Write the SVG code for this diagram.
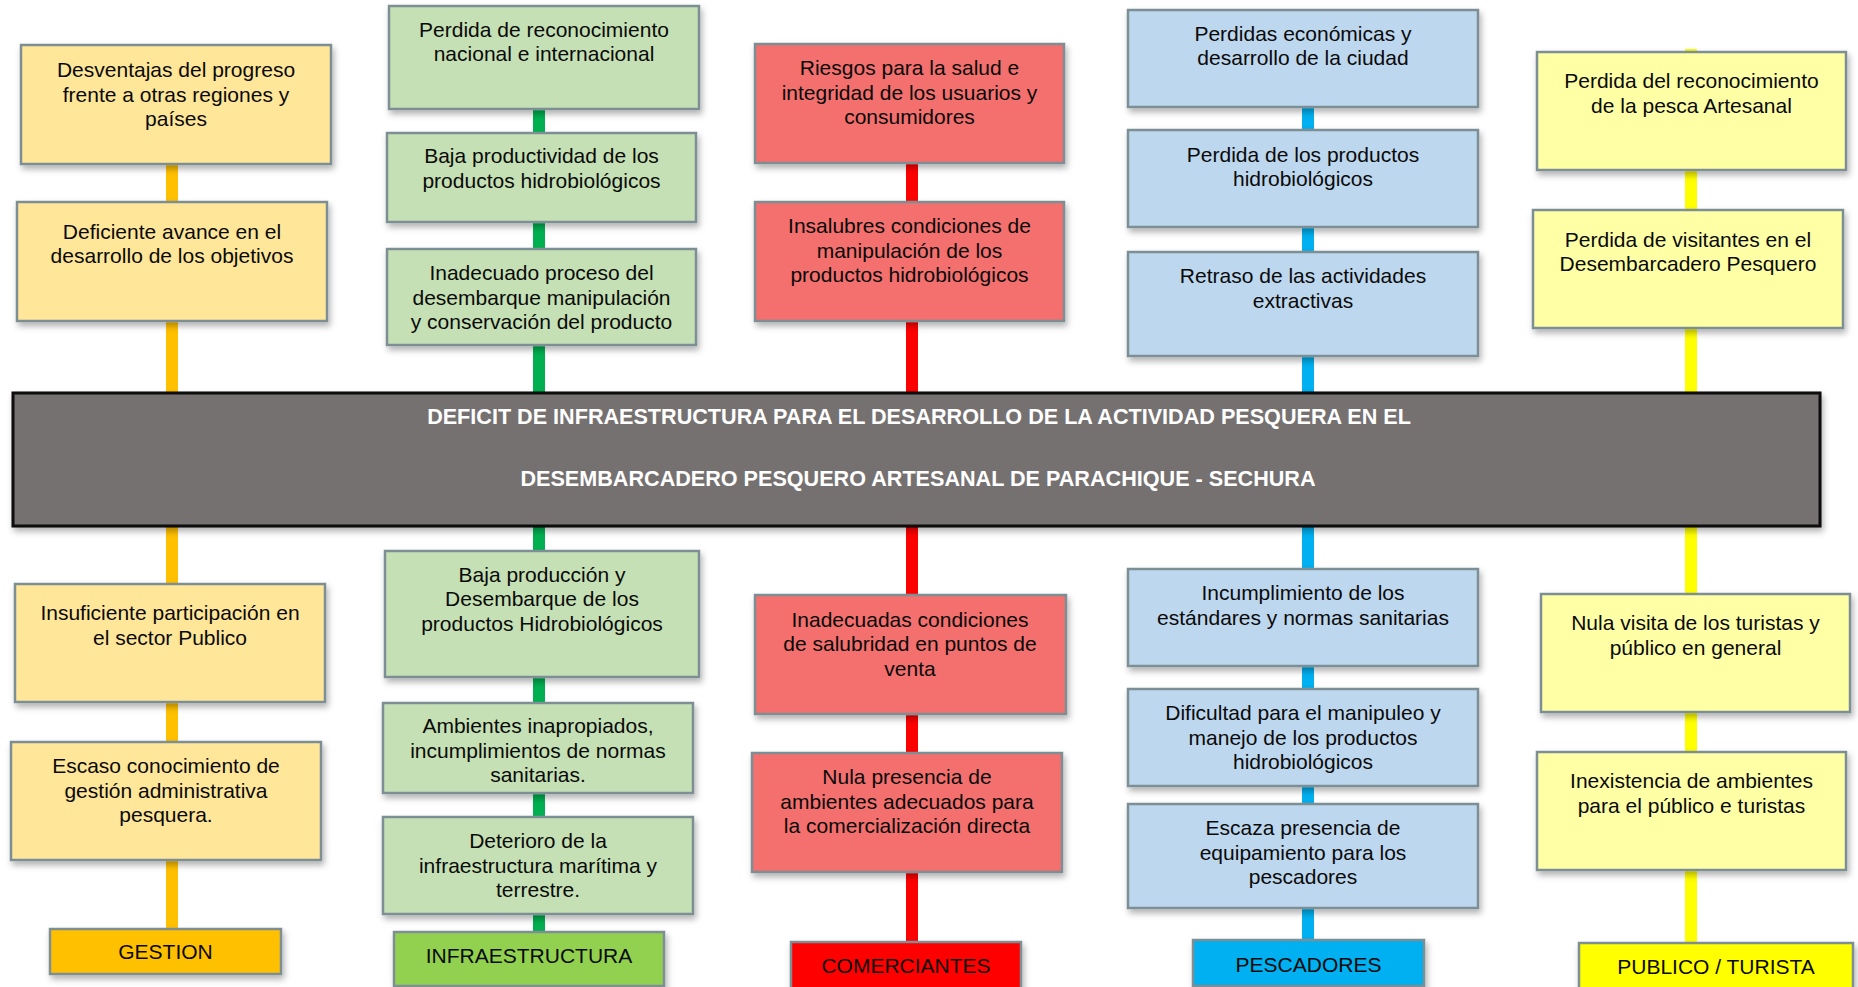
<svg xmlns="http://www.w3.org/2000/svg" width="1858" height="987" viewBox="0 0 1858 987">
<defs>
<filter id="sh" x="-10%" y="-10%" width="125%" height="140%">
<feDropShadow dx="2" dy="4" stdDeviation="3" flood-color="#000" flood-opacity="0.3"/>
</filter>
<style>
.box{stroke:#7d8f94;stroke-width:2.5;filter:url(#sh)}
.g{fill:#ffe699}.i{fill:#c5e0b4}.c{fill:#f36f6e}.p{fill:#bdd7ee}.t{fill:#ffffa6}
.t1{font-family:"Liberation Sans",Arial,sans-serif;font-size:21px;fill:#0a0a0a;text-anchor:middle}
.ttl{font-family:"Liberation Sans",Arial,sans-serif;font-size:21.6px;font-weight:bold;fill:#fff;text-anchor:middle}
.ln{stroke-width:12;fill:none}
</style>
</defs>
<rect width="1858" height="987" fill="#fff"/>
<g id="connectors">
<line class="ln" x1="172" y1="60" x2="172" y2="929" stroke="#ffc000"/>
<line class="ln" x1="539" y1="10" x2="539" y2="932" stroke="#00b050"/>
<line class="ln" x1="912" y1="60" x2="912" y2="942" stroke="#ff0000"/>
<line class="ln" x1="1308" y1="20" x2="1308" y2="940" stroke="#00b0f0"/>
<line class="ln" x1="1691" y1="49" x2="1691" y2="943" stroke="#ffff00"/>
</g>
<g id="central">
<rect x="13" y="393" width="1807" height="133" fill="#767171" stroke="#0d0d0d" stroke-width="3" filter="url(#sh)"/>
<text class="ttl" x="919" y="424">DEFICIT DE INFRAESTRUCTURA PARA EL DESARROLLO DE LA ACTIVIDAD PESQUERA EN EL</text>
<text class="ttl" x="918" y="486">DESEMBARCADERO PESQUERO ARTESANAL DE PARACHIQUE - SECHURA</text>
</g>
<!-- GESTION -->
<g id="g1"><rect class="box g" x="21" y="45" width="310" height="119"/>
<text class="t1" x="176" y="77">Desventajas del progreso<tspan x="176" dy="24.5">frente a otras regiones y</tspan><tspan x="176" dy="24.5">países</tspan></text></g>
<g id="g2"><rect class="box g" x="17" y="202" width="310" height="119"/>
<text class="t1" x="172" y="238.5">Deficiente avance en el<tspan x="172" dy="24.5">desarrollo de los objetivos</tspan></text></g>
<g id="g3"><rect class="box g" x="15" y="584" width="310" height="118"/>
<text class="t1" x="170" y="620">Insuficiente participación en<tspan x="170" dy="24.5">el sector Publico</tspan></text></g>
<g id="g4"><rect class="box g" x="11" y="742" width="310" height="118"/>
<text class="t1" x="166" y="773">Escaso conocimiento de<tspan x="166" dy="24.5">gestión administrativa</tspan><tspan x="166" dy="24.5">pesquera.</tspan></text></g>
<g id="gl"><rect class="box" x="50" y="929" width="231" height="45" fill="#ffc000"/>
<text class="t1" x="165.5" y="959">GESTION</text></g>
<!-- INFRAESTRUCTURA -->
<g id="i1"><rect class="box i" x="389" y="6" width="310" height="103"/>
<text class="t1" x="544" y="36.5">Perdida de reconocimiento<tspan x="544" dy="24.5">nacional e internacional</tspan></text></g>
<g id="i2"><rect class="box i" x="387" y="133" width="309" height="89"/>
<text class="t1" x="541.5" y="163">Baja productividad de los<tspan x="541.5" dy="24.5">productos hidrobiológicos</tspan></text></g>
<g id="i3"><rect class="box i" x="387" y="249" width="309" height="96"/>
<text class="t1" x="541.5" y="280">Inadecuado proceso del<tspan x="541.5" dy="24.5">desembarque manipulación</tspan><tspan x="541.5" dy="24.5">y conservación del producto</tspan></text></g>
<g id="i4"><rect class="box i" x="385" y="551" width="314" height="126"/>
<text class="t1" x="542" y="581.5">Baja producción y<tspan x="542" dy="24.5">Desembarque de los</tspan><tspan x="542" dy="24.5">productos Hidrobiológicos</tspan></text></g>
<g id="i5"><rect class="box i" x="383" y="703" width="310" height="90"/>
<text class="t1" x="538" y="733">Ambientes inapropiados,<tspan x="538" dy="24.5">incumplimientos de normas</tspan><tspan x="538" dy="24.5">sanitarias.</tspan></text></g>
<g id="i6"><rect class="box i" x="383" y="817" width="310" height="97"/>
<text class="t1" x="538" y="848">Deterioro de la<tspan x="538" dy="24.5">infraestructura marítima y</tspan><tspan x="538" dy="24.5">terrestre.</tspan></text></g>
<g id="il"><rect class="box" x="394" y="932" width="270" height="54" fill="#92d050"/>
<text class="t1" x="529" y="963">INFRAESTRUCTURA</text></g>
<!-- COMERCIANTES -->
<g id="c1"><rect class="box c" x="755" y="44" width="309" height="119"/>
<text class="t1" x="909.5" y="75">Riesgos para la salud e<tspan x="909.5" dy="24.5">integridad de los usuarios y</tspan><tspan x="909.5" dy="24.5">consumidores</tspan></text></g>
<g id="c2"><rect class="box c" x="755" y="202" width="309" height="119"/>
<text class="t1" x="909.5" y="233">Insalubres condiciones de<tspan x="909.5" dy="24.5">manipulación de los</tspan><tspan x="909.5" dy="24.5">productos hidrobiológicos</tspan></text></g>
<g id="c3"><rect class="box c" x="755" y="595" width="311" height="119"/>
<text class="t1" x="910" y="626.5">Inadecuadas condiciones<tspan x="910" dy="24.5">de salubridad en puntos de</tspan><tspan x="910" dy="24.5">venta</tspan></text></g>
<g id="c4"><rect class="box c" x="752" y="753" width="310" height="119"/>
<text class="t1" x="907" y="784">Nula presencia de<tspan x="907" dy="24.5">ambientes adecuados para</tspan><tspan x="907" dy="24.5">la comercialización directa</tspan></text></g>
<g id="cl"><rect class="box" x="791" y="942" width="230" height="50" fill="#ff0000"/>
<text class="t1" x="906" y="973">COMERCIANTES</text></g>
<!-- PESCADORES -->
<g id="p1"><rect class="box p" x="1128" y="10" width="350" height="97"/>
<text class="t1" x="1303" y="40.5">Perdidas económicas y<tspan x="1303" dy="24.5">desarrollo de la ciudad</tspan></text></g>
<g id="p2"><rect class="box p" x="1128" y="130" width="350" height="97"/>
<text class="t1" x="1303" y="161.5">Perdida de los productos<tspan x="1303" dy="24.5">hidrobiológicos</tspan></text></g>
<g id="p3"><rect class="box p" x="1128" y="252" width="350" height="104"/>
<text class="t1" x="1303" y="283">Retraso de las actividades<tspan x="1303" dy="24.5">extractivas</tspan></text></g>
<g id="p4"><rect class="box p" x="1128" y="569" width="350" height="97"/>
<text class="t1" x="1303" y="600">Incumplimiento de los<tspan x="1303" dy="24.5">estándares y normas sanitarias</tspan></text></g>
<g id="p5"><rect class="box p" x="1128" y="689" width="350" height="97"/>
<text class="t1" x="1303" y="720">Dificultad para el manipuleo y<tspan x="1303" dy="24.5">manejo de los productos</tspan><tspan x="1303" dy="24.5">hidrobiológicos</tspan></text></g>
<g id="p6"><rect class="box p" x="1128" y="804" width="350" height="104"/>
<text class="t1" x="1303" y="835">Escaza presencia de<tspan x="1303" dy="24.5">equipamiento para los</tspan><tspan x="1303" dy="24.5">pescadores</tspan></text></g>
<g id="pl"><rect class="box" x="1193" y="940" width="231" height="46" fill="#00b0f0"/>
<text class="t1" x="1308.5" y="971.5">PESCADORES</text></g>
<!-- PUBLICO / TURISTA -->
<g id="t1"><rect class="box t" x="1537" y="52" width="309" height="118"/>
<text class="t1" x="1691.5" y="88">Perdida del reconocimiento<tspan x="1691.5" dy="24.5">de la pesca Artesanal</tspan></text></g>
<g id="t2"><rect class="box t" x="1533" y="210" width="310" height="118"/>
<text class="t1" x="1688" y="246.5">Perdida de visitantes en el<tspan x="1688" dy="24.5">Desembarcadero Pesquero</tspan></text></g>
<g id="t3"><rect class="box t" x="1541" y="594" width="309" height="118"/>
<text class="t1" x="1695.5" y="630">Nula visita de los turistas y<tspan x="1695.5" dy="24.5">público en general</tspan></text></g>
<g id="t4"><rect class="box t" x="1537" y="752" width="309" height="118"/>
<text class="t1" x="1691.5" y="788">Inexistencia de ambientes<tspan x="1691.5" dy="24.5">para el público e turistas</tspan></text></g>
<g id="tl"><rect class="box" x="1579" y="943" width="274" height="50" fill="#ffff00"/>
<text class="t1" x="1716" y="974">PUBLICO / TURISTA</text></g>
</svg>
